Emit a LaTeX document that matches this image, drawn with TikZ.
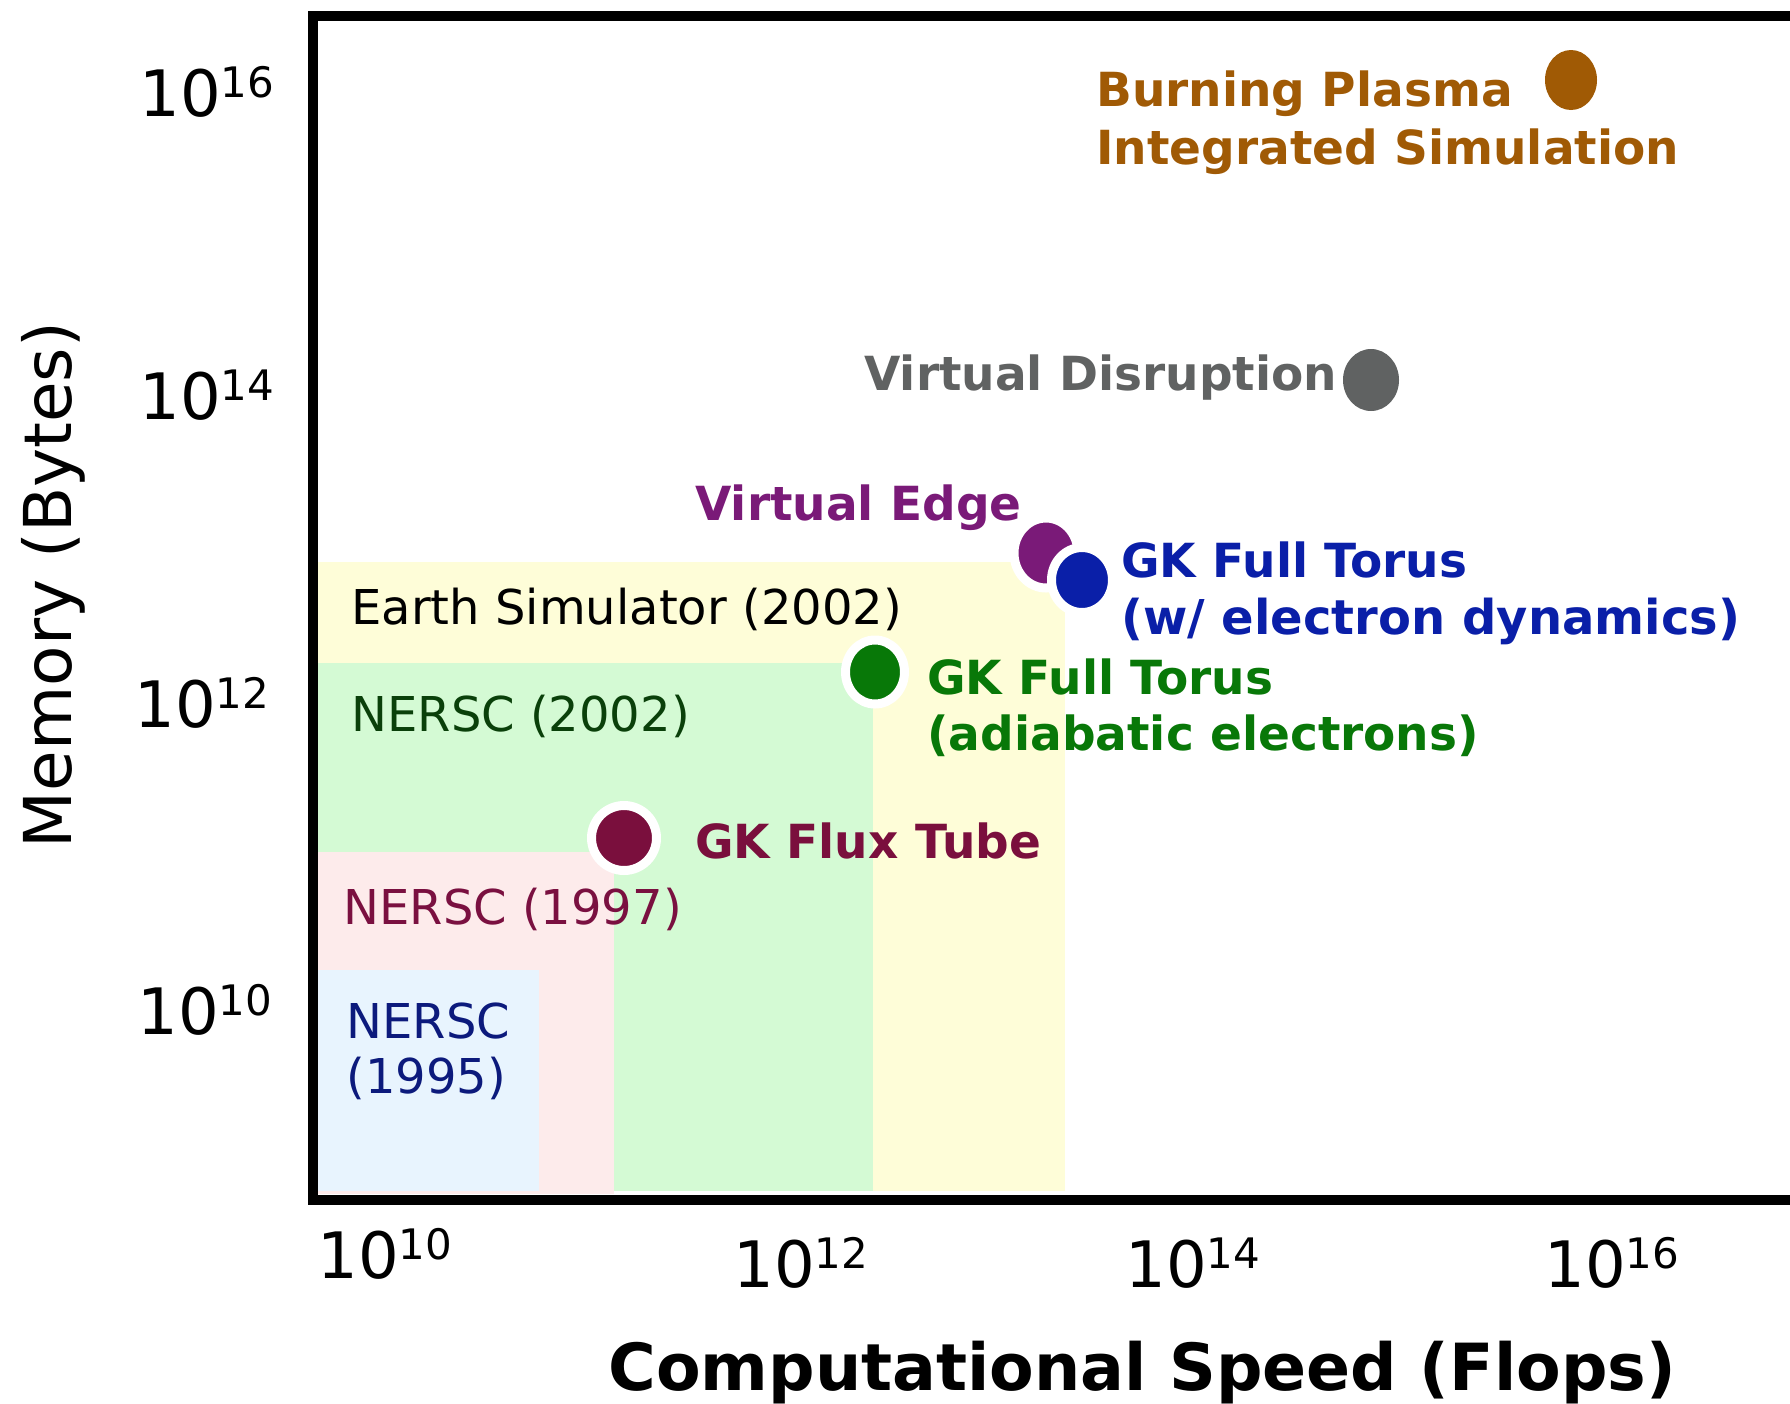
\documentclass[tikz,border=0pt]{standalone}
\usepackage{fontspec}
\setmainfont{DejaVu Sans}
\usetikzlibrary{shapes.geometric}
\definecolor{yellowfill}{HTML}{FEFDD8}
\definecolor{greenfill}{HTML}{D4FAD4}
\definecolor{pinkfill}{HTML}{FDEBEB}
\definecolor{bluefill}{HTML}{E8F4FE}
\definecolor{ntwo}{HTML}{0A400A}
\definecolor{nninetyseven}{HTML}{7A1040}
\definecolor{nninetyfive}{HTML}{0C1A7C}
\definecolor{bpc}{HTML}{A05A05}
\definecolor{vdc}{HTML}{606262}
\definecolor{vec}{HTML}{7A1A78}
\definecolor{gkb}{HTML}{0A1FA8}
\definecolor{gkg}{HTML}{087808}
\definecolor{gkm}{HTML}{7A0F3D}
\newcommand{\pw}[1]{10\raisebox{9.5pt}{\fontsize{21}{21}\selectfont #1}}
\begin{document}
\begin{tikzpicture}[x=0.5pt,y=-0.5pt,
  lbl/.style={inner sep=0pt, anchor=base west, font=\fontsize{24}{27.5}\selectfont},
  blbl/.style={inner sep=0pt, anchor=base west, font=\fontsize{23.5}{28}\selectfont\bfseries},
  ticklbl/.style={inner sep=0pt, anchor=base west, font=\fontsize{32}{32}\selectfont},
  dot/.style={ellipse, inner sep=0pt, outer sep=0pt, draw=white, line width=4.5pt},
  plaindot/.style={ellipse, inner sep=0pt, outer sep=0pt, draw=none}]
\path[use as bounding box] (0,0) rectangle (1790,1404);
\clip (0,0) rectangle (1790,1404);
% regions
\fill[yellowfill] (313,562) rectangle (1065,1191);
\fill[greenfill] (313,663) rectangle (873,1191);
\fill[pinkfill] (313,852) rectangle (614,1194);
\fill[bluefill] (313,970) rectangle (539,1191);
% frame
\draw[line width=5pt] (1800,15.5) -- (313,15.5) -- (313,1199.5) -- (1800,1199.5);
% region labels
\node[lbl, text=black] (es) at (351,624) {Earth Simulator (2002)};
\node[lbl, text=ntwo] (n02) at (351,731) {NERSC (2002)};
\node[lbl, text=nninetyseven] (n97) at (343,924) {NERSC (1997)};
\node[lbl, text=nninetyfive] (n95a) at (346,1038) {NERSC};
\node[lbl, text=nninetyfive] (n95b) at (346,1093) {(1995)};
% dots
\node[dot, fill=gkm, minimum width=32.5pt, minimum height=32.5pt] (ftdot) at (624,838) {};
\node[dot, fill=gkg, minimum width=29.5pt, minimum height=32pt] (gkgdot) at (875,672) {};
\node[dot, fill=vec, minimum width=32pt, minimum height=35pt] (vedot) at (1046,553) {};
\node[dot, fill=gkb, minimum width=30.5pt, minimum height=32.5pt] (gkbdot) at (1082,580) {};
\node[plaindot, fill=vdc, minimum width=28pt, minimum height=31pt] (vddot) at (1371,380) {};
\node[plaindot, fill=bpc, minimum width=26pt, minimum height=30pt] (bpdot) at (1571,80) {};
% bold labels
\node[blbl, text=bpc] (bp1) at (1096,106) {Burning Plasma};
\node[blbl, text=bpc] (bp2) at (1096,164) {Integrated Simulation};
\node[blbl, text=vdc] (vd) at (864,390) {Virtual Disruption};
\node[blbl, text=vec] (ve) at (695,520) {Virtual Edge};
\node[blbl, text=gkb] (gkb1) at (1121,577) {GK Full Torus};
\node[blbl, text=gkb, font=\fontsize{24}{28}\selectfont\bfseries] (gkb2) at (1121,634) {(w/ electron dynamics)};
\node[blbl, text=gkg] (gkg1) at (927,694) {GK Full Torus};
\node[blbl, text=gkg] (gkg2) at (927,750) {(adiabatic electrons)};
\node[blbl, text=gkm] (ft) at (695,858) {GK Flux Tube};
% ticks
\node[ticklbl] (y16) at (139,116) {\pw{16}};
\node[ticklbl] (y14) at (139,419) {\pw{14}};
\node[ticklbl] (y12) at (134,727) {\pw{12}};
\node[ticklbl] (y10) at (137,1034) {\pw{10}};
\node[ticklbl] (x10) at (317,1278) {\pw{10}};
\node[ticklbl] (x12) at (733,1287) {\pw{12}};
\node[ticklbl] (x14) at (1125,1287) {\pw{14}};
\node[ticklbl] (x16) at (1544,1287) {\pw{16}};
% axis titles
\node[inner sep=0pt, anchor=base west, font=\fontsize{32.5}{32.5}\selectfont\bfseries] (xt) at (608,1390) {Computational Speed (Flops)};
\node[rotate=90, anchor=base, inner sep=0pt, font=\fontsize{33}{33}\selectfont] (yt) at (71,585) {Memory (Bytes)};
\end{tikzpicture}
\end{document}
